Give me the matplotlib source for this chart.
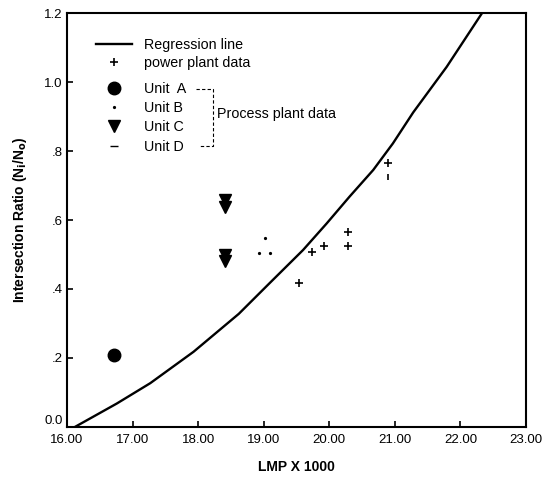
import matplotlib
matplotlib.use("Agg")
import matplotlib.pyplot as plt
from matplotlib.lines import Line2D

plt.rcParams["font.family"] = ["Liberation Sans", "DejaVu Sans"]

# regression line
reg_x = [16.12, 16.76, 17.27, 17.93, 18.62, 19.09, 19.60, 19.96, 20.31, 20.67, 20.97, 21.28, 21.79, 22.33]
reg_y = [0.000, 0.068, 0.127, 0.218, 0.328, 0.417, 0.513, 0.590, 0.668, 0.745, 0.822, 0.912, 1.044, 1.200]

# power plant data
pp_x = [19.54, 19.74, 19.92, 20.29, 20.29, 20.90]
pp_y = [0.417, 0.507, 0.525, 0.565, 0.525, 0.765]
pp_bar_x = [20.90]
pp_bar_y = [0.725]

# process plant data
unit_a_x = [16.72]
unit_a_y = [0.21]
unit_b_x = [19.02, 18.93, 19.10]
unit_b_y = [0.548, 0.504, 0.504]
unit_c_x = [18.41, 18.41, 18.41, 18.41]
unit_c_y = [0.658, 0.638, 0.500, 0.480]

xticks = [16, 17, 18, 19, 20, 21, 22, 23]
xtick_labels = ["16.00", "17.00", "18.00", "19.00", "20.00", "21.00", "22.00", "23.00"]
yticks = [0.0, 0.2, 0.4, 0.6, 0.8, 1.0, 1.2]
ytick_labels = ["0.0", ".2", ".4", ".6", ".8", "1.0", "1.2"]

fig = plt.figure(figsize=(5.46, 4.83), dpi=100)
ax = fig.add_axes([0.1227, 0.116, 0.8407, 0.857])

ax.plot(reg_x, reg_y, color="black", lw=1.7, solid_capstyle="round")
ax.plot(pp_x, pp_y, ls="none", marker="+", ms=6, mew=1.2, color="black")
ax.plot(pp_bar_x, pp_bar_y, ls="none", marker="|", ms=5, mew=1.2, color="black")
ax.plot(unit_a_x, unit_a_y, ls="none", marker="o", ms=9, color="black")
ax.plot(unit_b_x, unit_b_y, ls="none", marker="o", ms=1.3, color="black")
ax.plot(unit_c_x, unit_c_y, ls="none", marker="v", ms=8.5, color="black")

ax.set_xlim(16, 23)
ax.set_ylim(0, 1.2)
ax.set_xticks(xticks)
ax.set_xticklabels(xtick_labels)
ax.set_yticks(yticks)
ax.set_yticklabels(ytick_labels)
ax.tick_params(direction="in", length=4, width=1.2, labelsize=9.5, pad=3)
ax.tick_params(axis="x", pad=5)
for s in ax.spines.values():
    s.set_linewidth(1.5)
# the "0.0" label sits a little above its tick, as in the reference
ax.get_yticklabels()[0].set_verticalalignment("bottom")

ax.set_xlabel("LMP X 1000", fontsize=10, fontweight="bold", labelpad=10)
ax.set_ylabel("Intersection Ratio (N$_\\mathbf{i}$/N$_\\mathbf{o}$)", fontsize=10,
              fontweight="bold", labelpad=11)

leg_kw = dict(loc="upper left", frameon=False, fontsize=10.3, handlelength=2.5,
              handletextpad=0.85, borderpad=0, borderaxespad=0)

top_handles = [
    Line2D([], [], color="black", lw=1.7),
    Line2D([], [], ls="none", marker="+", ms=6, mew=1.2, color="black"),
]
top_labels = ["Regression line", "power plant data"]
leg1 = ax.legend(top_handles, top_labels, bbox_to_anchor=(0.063, 0.94),
                 labelspacing=0.29, **leg_kw)
ax.add_artist(leg1)

unit_handles = [
    Line2D([], [], ls="none", marker="o", ms=9, color="black"),
    Line2D([], [], ls="none", marker="o", ms=1.3, color="black"),
    Line2D([], [], ls="none", marker="v", ms=8.5, color="black"),
    Line2D([], [], ls="none", marker="_", ms=6, mew=1.0, color="black"),
]
unit_labels = ["Unit  A", "Unit B", "Unit C", "Unit D"]
ax.legend(unit_handles, unit_labels, bbox_to_anchor=(0.063, 0.833),
          labelspacing=0.36, **leg_kw)

# bracket grouping the process plant units
ax.plot([0.281, 0.318, 0.318, 0.290], [0.816, 0.816, 0.679, 0.679],
        transform=ax.transAxes, color="black", lw=0.8, ls=(0, (3, 2)))
ax.text(0.327, 0.756, "Process plant data", transform=ax.transAxes,
        fontsize=10.3, va="center", ha="left")

fig.savefig("out.png", dpi=100)
